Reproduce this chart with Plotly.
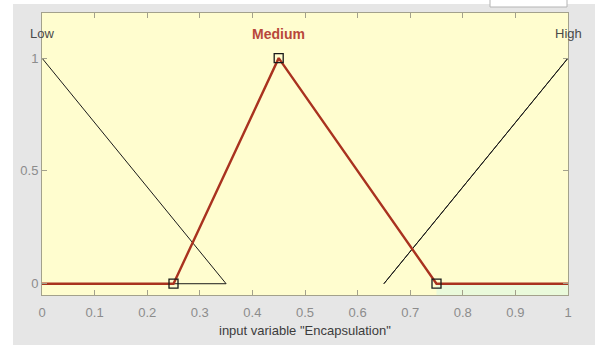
import plotly.graph_objects as go

# Membership functions of the input variable "Encapsulation"
mf_names = ["Low", "Medium", "High"]
low_x = [0, 0.35, 0]
low_y = [1, 0, 0]
medium_x = [0, 0.25, 0.45, 0.75, 1]
medium_y = [0, 0, 1, 0, 0]
high_x = [0.65, 1, 0.65]
high_y = [0, 1, 0]
medium_vertex_x = [0.25, 0.45, 0.75]
medium_vertex_y = [0, 1, 0]
label_x = [0, 0.45, 1]
label_y = 1.107
x_ticks = [0, 0.1, 0.2, 0.3, 0.4, 0.5, 0.6, 0.7, 0.8, 0.9, 1]
x_tick_text = ["0", "0.1", "0.2", "0.3", "0.4", "0.5", "0.6", "0.7", "0.8", "0.9", "1"]
y_ticks = [0, 0.5, 1]
y_tick_text = ["0", "0.5", "1"]
x_title = 'input variable "Encapsulation"'

W, H = 610, 345
ML, MR, MT, MB = 42, 42, 13, 50
PW, PH = W - ML - MR, H - MT - MB


def px_x(p):
    return (p - ML) / PW


def px_y(p):
    return (H - MB - p) / PH


FONT = "Liberation Sans, Arial, sans-serif"
AXIS_COL = "#a3a18c"
BLACK = "#1a1a1a"
RED = "#a9321f"

fig = go.Figure()

fig.add_trace(go.Scatter(x=low_x, y=low_y, mode="lines",
                         line=dict(color=BLACK, width=1), hoverinfo="skip"))
fig.add_trace(go.Scatter(x=high_x, y=high_y, mode="lines",
                         line=dict(color=BLACK, width=1), hoverinfo="skip"))
fig.add_trace(go.Scatter(x=medium_x, y=medium_y, mode="lines",
                         line=dict(color=RED, width=2.4), hoverinfo="skip"))
fig.add_trace(go.Scatter(x=medium_vertex_x, y=medium_vertex_y, mode="markers",
                         marker=dict(symbol="square-open", size=9,
                                     color=BLACK, line=dict(width=1.3)),
                         hoverinfo="skip"))

label_colors = ["#4a4a4a", "#b8473a", "#4a4a4a"]
label_text = ["Low", "<b>Medium</b>", "High"]
label_size = [13, 14, 13]
for txt, lx, col, sz in zip(label_text, label_x, label_colors, label_size):
    fig.add_annotation(x=lx, y=label_y, xref="x", yref="y", text=txt,
                       showarrow=False, xanchor="center", yanchor="middle",
                       font=dict(family=FONT, size=sz, color=col))

# x-axis title placed below the tick labels
fig.add_annotation(x=0.5, y=px_y(330), xref="paper", yref="paper",
                   text=x_title, showarrow=False,
                   xanchor="center", yanchor="middle",
                   font=dict(family=FONT, size=13, color="#3c3c3c"))

shapes = [
    # grey window panel behind the axes
    dict(type="rect", xref="paper", yref="paper", layer="below",
         x0=px_x(13), x1=px_x(595), y0=px_y(345), y1=px_y(4),
         fillcolor="#e6e6e6", line=dict(width=0)),
    # pale yellow axes background
    dict(type="rect", xref="paper", yref="paper", layer="below",
         x0=0, x1=1, y0=0, y1=1,
         fillcolor="#fffdcf", line=dict(width=0)),
    # pale green tint under the right tail
    dict(type="rect", xref="x", yref="y", layer="below",
         x0=0.75, x1=1, y0=-0.05, y1=0,
         fillcolor="#eafadb", line=dict(width=0)),
    # small white box at the top right
    dict(type="rect", xref="paper", yref="paper", layer="above",
         x0=px_x(490), x1=px_x(567), y0=px_y(7), y1=px_y(-2),
         fillcolor="#ffffff", line=dict(color="#b4b4b4", width=1)),
]

fig.update_layout(
    width=W, height=H,
    margin=dict(l=ML, r=MR, t=MT, b=MB, pad=0, autoexpand=False),
    paper_bgcolor="#ffffff",
    plot_bgcolor="rgba(0,0,0,0)",
    showlegend=False,
    shapes=shapes,
    xaxis=dict(range=[0, 1], tickvals=x_ticks, ticktext=x_tick_text,
               showgrid=False, zeroline=False, automargin=False,
               showline=True, linecolor=AXIS_COL, linewidth=1, mirror="ticks",
               ticks="inside", ticklen=5, tickcolor=AXIS_COL,
               ticklabelstandoff=5,
               tickfont=dict(family=FONT, size=13, color="#8c8c8c")),
    yaxis=dict(range=[-0.05, 1.2], tickvals=y_ticks, ticktext=y_tick_text,
               showgrid=False, zeroline=False, automargin=False,
               showline=True, linecolor=AXIS_COL, linewidth=1, mirror="ticks",
               ticks="inside", ticklen=5, tickcolor=AXIS_COL,
               tickfont=dict(family=FONT, size=13, color="#8c8c8c")),
)

fig.write_html("out.html")
